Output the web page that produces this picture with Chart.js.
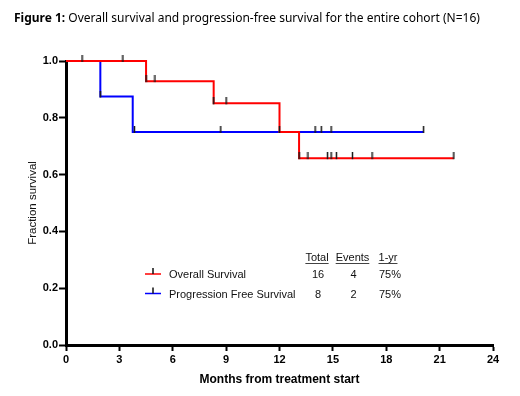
<!DOCTYPE html>
<html>
<head>
<meta charset="utf-8">
<script src="https://cdn.jsdelivr.net/npm/chart.js@4/dist/chart.umd.min.js"></script>
<style>
  html, body { margin: 0; padding: 0; background: #fff; }
  #wrap { position: relative; width: 520px; height: 396px; }
  #title { position: absolute; left: 14px; top: 9px; font-family: 'Noto Sans'; font-size: 12px; color: #000; white-space: nowrap; }
  canvas { position: absolute; left: 0; top: 0; }
</style>
</head>
<body>
<div id="wrap">
  <canvas id="km" width="520" height="396"></canvas>
  <div id="title"><b>Figure 1:</b> Overall survival and progression-free survival for the entire cohort (N=16)</div>
</div>
<script>
// Overall survival: step points (time in months, fraction surviving)
const osTimes = [0, 4.5, 8.3, 12.0, 13.1, 21.8];
const osSurv = [1.0, 0.929, 0.851, 0.75, 0.658, 0.658];
const osCensored = [0.9, 3.2, 4.5, 5.0, 8.3, 9.0, 13.1, 13.6, 14.7, 14.9, 15.2, 16.1, 17.2, 21.8];

// Progression free survival
const pfsTimes = [0, 1.93, 3.75, 20.1];
const pfsSurv = [1.0, 0.875, 0.75, 0.75];
const pfsCensored = [1.93, 3.85, 8.7, 12.0, 14.0, 14.35, 14.9, 20.1];

const xTicks = [0, 3, 6, 9, 12, 15, 18, 21, 24];

// summary table next to the legend
const tableHead = ['Total', 'Events', '1-yr'];
const tableRows = [
  { label: 'Overall Survival', color: '#ff0000', values: ['16', '4', '75%'] },
  { label: 'Progression Free Survival', color: '#0000ff', values: ['8', '2', '75%'] },
];

function survAt(times, surv, t) {
  let s = surv[0];
  for (let i = 0; i < times.length; i++) {
    if (times[i] <= t) s = surv[i];
  }
  return s;
}

// censor mark: short vertical tick sitting on top of the curve
function tickMark(h) {
  const c = document.createElement('canvas');
  c.width = 3;
  c.height = h * 2;
  const g = c.getContext('2d');
  g.fillStyle = '#1a1a1a';
  g.fillRect(0.75, 0, 1.5, h + 1);
  return c;
}
const tick = tickMark(6);

const legendTable = {
  id: 'legendTable',
  afterDraw(chart) {
    const ctx = chart.ctx;
    const cols = [317, 352.5, 388];
    ctx.save();
    ctx.fillStyle = '#111';
    ctx.strokeStyle = '#111';
    ctx.font = '11px "Liberation Sans"';
    ctx.textAlign = 'center';
    ctx.textBaseline = 'alphabetic';
    tableHead.forEach((h, i) => {
      ctx.fillText(h, cols[i], 261);
      const w = ctx.measureText(h).width;
      ctx.lineWidth = 0.8;
      ctx.beginPath();
      ctx.moveTo(cols[i] - w / 2, 263.5);
      ctx.lineTo(cols[i] + w / 2, 263.5);
      ctx.stroke();
    });
    const rowY = [274, 293.5];
    tableRows.forEach((r, j) => {
      const y = rowY[j];
      ctx.strokeStyle = r.color;
      ctx.lineWidth = 1.5;
      ctx.beginPath();
      ctx.moveTo(145, y);
      ctx.lineTo(161, y);
      ctx.stroke();
      ctx.strokeStyle = '#111';
      ctx.beginPath();
      ctx.moveTo(153, y - 6);
      ctx.lineTo(153, y);
      ctx.stroke();
      ctx.fillStyle = '#111';
      ctx.textAlign = 'left';
      ctx.fillText(r.label, 169, y + 4);
      ctx.textAlign = 'center';
      r.values.forEach((v, i) => ctx.fillText(v, cols[i] + (i === 2 ? 2 : 1), y + 4));
    });
    ctx.restore();
  }
};

const config = {
  type: 'line',
  data: {
    datasets: [
      {
        label: 'Overall Survival',
        data: osTimes.map((t, i) => ({ x: t, y: osSurv[i] })),
        borderColor: '#ff0000',
        borderWidth: 2,
        stepped: 'before',
        pointRadius: 0,
        fill: false,
        clip: false,
        order: 2,
      },
      {
        label: 'Progression Free Survival',
        data: pfsTimes.map((t, i) => ({ x: t, y: pfsSurv[i] })),
        borderColor: '#0000ff',
        borderWidth: 2,
        stepped: 'before',
        pointRadius: 0,
        fill: false,
        clip: false,
        order: 3,
      },
      {
        label: 'OS censored',
        data: osCensored.map(t => ({ x: t, y: survAt(osTimes, osSurv, t) })),
        showLine: false,
        pointStyle: tick,
        pointRadius: 6,
        clip: false,
        order: 0,
      },
      {
        label: 'PFS censored',
        data: pfsCensored.map(t => ({ x: t, y: survAt(pfsTimes, pfsSurv, t) })),
        showLine: false,
        pointStyle: tick,
        pointRadius: 6,
        clip: false,
        order: 1,
      },
    ],
  },
  options: {
    responsive: false,
    animation: false,
    layout: { padding: { left: 0, top: 61, right: 27, bottom: 0 } },
    plugins: {
      legend: { display: false },
      tooltip: { enabled: false },
    },
    scales: {
      x: {
        type: 'linear',
        min: 0,
        max: 24,
        afterBuildTicks: s => { s.ticks = xTicks.map(v => ({ value: v })); },
        afterFit: s => { s.height = 51; },
        ticks: {
          color: '#000',
          padding: 2,
          font: { family: 'Liberation Sans', size: 11, weight: 'bold' },
        },
        grid: { drawOnChartArea: false, drawTicks: true, tickLength: 6, tickWidth: 2, tickColor: '#000' },
        border: { display: true, width: 3, color: '#000' },
        title: {
          display: true,
          text: 'Months from treatment start',
          color: '#000',
          padding: { top: 1, bottom: 9 },
          font: { family: 'Liberation Sans', size: 12, weight: 'bold' },
        },
      },
      y: {
        min: 0,
        max: 1,
        afterFit: s => { s.width = 66; },
        ticks: {
          stepSize: 0.2,
          color: '#000',
          padding: 1,
          callback: v => v.toFixed(1),
          font: { family: 'Liberation Sans', size: 11, weight: 'bold' },
        },
        grid: { drawOnChartArea: false, drawTicks: true, tickLength: 7, tickWidth: 2, tickColor: '#000' },
        border: { display: true, width: 3, color: '#000' },
        title: {
          display: true,
          text: 'Fraction survival',
          color: '#111',
          padding: { top: 26, bottom: 0 },
          font: { family: 'Liberation Sans', size: 11.5 },
        },
      },
    },
  },
  plugins: [legendTable],
};

const kmChart = new Chart(document.getElementById('km'), config);
</script>
</body>
</html>
